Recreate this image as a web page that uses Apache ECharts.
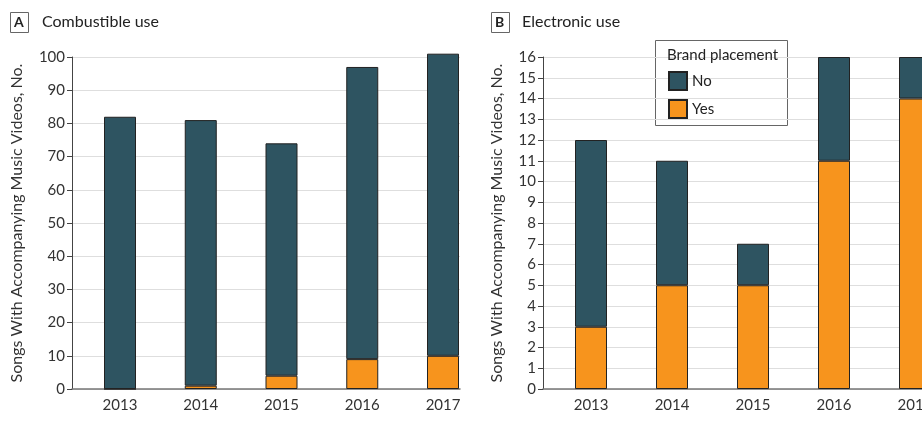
<!DOCTYPE html>
<html><head><meta charset="utf-8">
<script src="https://cdn.jsdelivr.net/npm/echarts@6/dist/echarts.min.js"></script>
<style>html,body{margin:0;padding:0;background:#fff}#c{width:922px;height:430px}</style>
</head><body><div id="c"></div>
<script>
const years = ['2013', '2014', '2015', '2016', '2017'];
const combustibleYes = [0, 1, 4, 9, 10];
const combustibleNo = [82, 80, 70, 88, 91];
const electronicYes = [3, 5, 5, 11, 14];
const electronicNo = [9, 6, 2, 5, 2];
const yTitle = 'Songs With Accompanying Music Videos, No.';

const FONT = 'Lato';
const NAVY = '#2e5461';
const ORANGE = '#f7941d';
const yearNums = years.map(Number);

const chart = echarts.init(document.getElementById('c'));

// visible frame axes (value x axis only for the axis line + labels)
const frameX = (gi, max) => ({
  type: 'value', gridIndex: gi, min: 2012.406, max: max,
  axisLine: {show: true, lineStyle: {color: '#777', width: 1.5}},
  axisTick: {show: false},
  splitLine: {show: false},
  axisLabel: {customValues: yearNums, formatter: v => String(v), color: '#333', fontFamily: FONT, fontSize: 15, margin: 9,
    hideOverlap: false, alignMaxLabel: 'center', alignMinLabel: 'center'}
});
const frameY = (gi, max, interval, gap) => ({
  type: 'value', gridIndex: gi, min: 0, max: max, interval: interval,
  name: yTitle, nameLocation: 'middle', nameGap: gap,
  nameTextStyle: {color: '#333', fontFamily: FONT, fontSize: 16},
  axisLine: {show: true, lineStyle: {color: '#444', width: 1}},
  axisTick: {show: true, length: 5, lineStyle: {color: '#444'}},
  splitLine: {show: true, lineStyle: {color: '#dedede', width: 1}},
  axisLabel: {color: '#333', fontFamily: FONT, fontSize: 15, margin: 7}
});
// hidden axes that place the bars (categories sit on the grid edges)
const barX = (gi) => ({type: 'category', gridIndex: gi, data: years, boundaryGap: false, show: false});
const barY = (gi, max) => ({type: 'value', gridIndex: gi, min: 0, max: max, show: false});

const mk = (name, data, gi, color) => ({
  name: name, type: 'bar', xAxisIndex: gi, yAxisIndex: gi, stack: 's' + gi,
  barWidth: 32, clip: false, data: data,
  itemStyle: {color: color, borderColor: '#222', borderWidth: 1},
  emphasis: {disabled: true}
});

chart.setOption({
  animation: false,
  textStyle: {fontFamily: FONT},
  grid: [
    {left: 72, top: 57, width: 388, bottom: 41, outerBoundsMode: 'none'},
    {left: 120, top: 57, width: 323, bottom: 41, outerBoundsMode: 'none'},
    {left: 543, top: 57, right: 0, bottom: 41, outerBoundsMode: 'none'},
    {left: 591, top: 57, width: 324, bottom: 41, outerBoundsMode: 'none'}
  ],
  xAxis: [frameX(0, 2017.21), barX(1), frameX(2, 2017.087), barX(3)],
  yAxis: [frameY(0, 100, 10, 47), barY(1, 100), frameY(2, 16, 1, 38), barY(3, 16)],
  legend: {
    data: ['No', 'Yes'], orient: 'vertical', left: 663, top: 66,
    itemWidth: 18, itemHeight: 18, itemGap: 8, padding: 5, icon: 'rect',
    textStyle: {color: '#222', fontFamily: FONT, fontSize: 15}
  },
  graphic: [
    {type: 'rect', left: 655, top: 40, z: 0, shape: {width: 132, height: 85}, style: {fill: '#fff', stroke: '#666', lineWidth: 1}},
    {type: 'text', left: 667, top: 48, z: 1, style: {text: 'Brand placement', fill: '#222', font: '15px ' + FONT}},
    {type: 'rect', left: 10, top: 12, shape: {width: 18, height: 20}, style: {fill: '#fff', stroke: '#666', lineWidth: 1}},
    {type: 'text', left: 14, top: 15, style: {text: 'A', fill: '#222', font: 'bold 14px ' + FONT}},
    {type: 'text', left: 42, top: 14, style: {text: 'Combustible use', fill: '#222', font: '16px ' + FONT}},
    {type: 'rect', left: 491, top: 12, shape: {width: 18, height: 20}, style: {fill: '#fff', stroke: '#666', lineWidth: 1}},
    {type: 'text', left: 495, top: 15, style: {text: 'B', fill: '#222', font: 'bold 14px ' + FONT}},
    {type: 'text', left: 522, top: 14, style: {text: 'Electronic use', fill: '#222', font: '16px ' + FONT}}
  ],
  series: [
    mk('Yes', combustibleYes, 1, ORANGE),
    mk('No', combustibleNo, 1, NAVY),
    mk('Yes', electronicYes, 3, ORANGE),
    mk('No', electronicNo, 3, NAVY)
  ]
});
</script></body></html>
